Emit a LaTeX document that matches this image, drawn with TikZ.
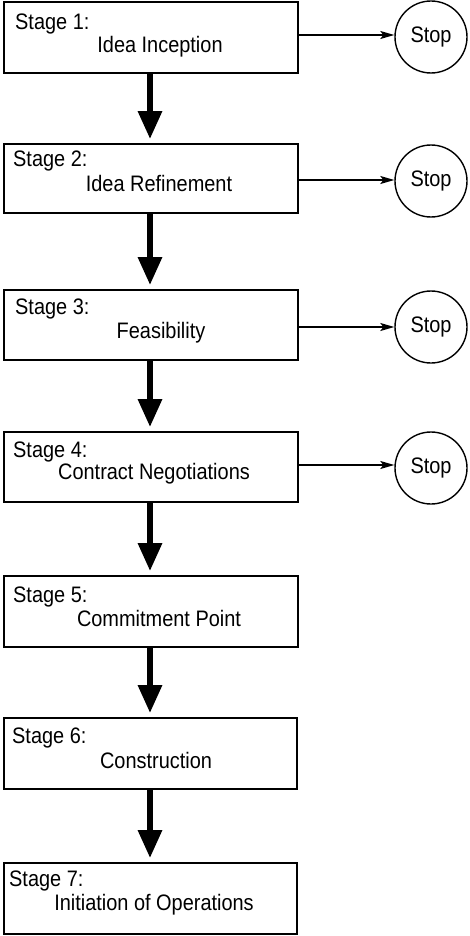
\documentclass[tikz,border=0pt]{standalone}
\usepackage{fontspec}
\setmainfont{Liberation Sans}[FakeStretch=0.89]
\usetikzlibrary{arrows.meta}
\begin{document}
\begin{tikzpicture}[x=1pt,y=-1pt,
  stagebox/.style={draw,line width=1.8pt,rectangle,inner sep=0pt},
  stopnode/.style={draw,line width=1.4pt,circle,minimum size=72pt,inner sep=0pt,font=\fontsize{22.4}{24}\selectfont},
  txt/.style={inner sep=0pt,font=\fontsize{22.4}{24}\selectfont},
  flow/.style={line width=6pt,-{Triangle[width=23pt,length=28pt]},shorten >=4pt},
  exit/.style={line width=1.4pt,-{Stealth[width=8pt,length=14pt,inset=3pt]}}]
\useasboundingbox (0,0) rectangle (469,936);
\fill[white] (0,0) rectangle (469,936);

% stage boxes
\node[stagebox,minimum width=294pt,minimum height=71pt] (b1) at (151,37.5) {};
\node[stagebox,minimum width=294pt,minimum height=69pt] (b2) at (151,178.5) {};
\node[stagebox,minimum width=294pt,minimum height=70pt] (b3) at (151,325) {};
\node[stagebox,minimum width=294pt,minimum height=70pt] (b4) at (151,467) {};
\node[stagebox,minimum width=294pt,minimum height=71pt] (b5) at (151,611.5) {};
\node[stagebox,minimum width=293pt,minimum height=71pt] (b6) at (150.5,753.5) {};
\node[stagebox,minimum width=293pt,minimum height=71pt] (b7) at (150.5,898.5) {};

% box texts
\node[txt,anchor=base west] (s1) at (15,30) {Stage 1:};
\node[txt,anchor=base] (t1) at (160,53) {Idea Inception};
\node[txt,anchor=base west] (s2) at (13,167) {Stage 2:};
\node[txt,anchor=base] (t2) at (159,191) {Idea Refinement};
\node[txt,anchor=base west] (s3) at (15,314) {Stage 3:};
\node[txt,anchor=base] (t3) at (161,338) {Feasibility};
\node[txt,anchor=base west] (s4) at (13,457) {Stage 4:};
\node[txt,anchor=base] (t4) at (154,479) {Contract Negotiations};
\node[txt,anchor=base west] (s5) at (13,602) {Stage 5:};
\node[txt,anchor=base] (t5) at (159,626) {Commitment Point};
\node[txt,anchor=base west] (s6) at (12,743) {Stage 6:};
\node[txt,anchor=base] (t6) at (156,768) {Construction};
\node[txt,anchor=base west] (s7) at (9,886) {Stage 7:};
\node[txt,anchor=base] (t7) at (154,910) {Initiation of Operations};

% stop circles
\node[stopnode] (p1) at (431,37) {Stop};
\node[stopnode] (p2) at (431,181) {Stop};
\node[stopnode] (p3) at (431,327) {Stop};
\node[stopnode] (p4) at (431,468) {Stop};

% main flow
\draw[flow] (b1.south -| 150,0) -- (b2.north -| 150,0);
\draw[flow] (b2.south -| 150,0) -- (b3.north -| 150,0);
\draw[flow] (b3.south -| 150,0) -- (b4.north -| 150,0);
\draw[flow] (b4.south -| 150,0) -- (b5.north -| 150,0);
\draw[flow] (b5.south -| 150,0) -- (b6.north -| 150,0);
\draw[flow] (b6.south -| 150,0) -- (b7.north -| 150,0);

% exits to stop
\draw[exit] (b1.east |- 0,35) -- (p1.west |- 0,35);
\draw[exit] (b2.east |- 0,180) -- (p2.west |- 0,180);
\draw[exit] (b3.east |- p3) -- (p3.west);
\draw[exit] (b4.east |- 0,465) -- (p4.west |- 0,465);
\end{tikzpicture}
\end{document}
